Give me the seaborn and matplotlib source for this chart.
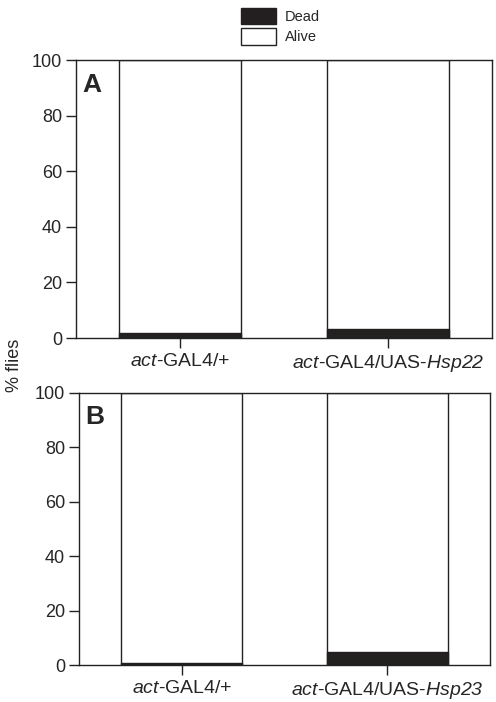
import matplotlib
matplotlib.use("Agg")
import matplotlib.pyplot as plt
import seaborn as sns
import pandas as pd
from matplotlib.patches import Patch

# genotypes and % dead flies
genotypes_A = [r"$\it{act}$-GAL4/+", r"$\it{act}$-GAL4/UAS-$\it{Hsp22}$"]
genotypes_B = [r"$\it{act}$-GAL4/+", r"$\it{act}$-GAL4/UAS-$\it{Hsp23}$"]
dead_A = [1.8, 3.1]
dead_B = [0.9, 4.8]
alive_total = [100, 100]
yticks = [0, 20, 40, 60, 80, 100]

sns.set_style("ticks")
plt.rcParams["font.family"] = ["Liberation Sans", "DejaVu Sans"]
plt.rcParams["mathtext.fontset"] = "custom"
plt.rcParams["mathtext.rm"] = "Liberation Sans:italic"
plt.rcParams["mathtext.it"] = "Liberation Sans:italic"

fig = plt.figure(figsize=(4.96, 7.02), dpi=100)
axA = fig.add_axes([0.153, 0.5185, 0.839, 0.396])
axB = fig.add_axes([0.159, 0.0527, 0.829, 0.3875])


def panel(ax, genos, dead, letter):
    df = pd.DataFrame({"geno": genos, "total": alive_total, "dead": dead})
    sns.barplot(data=df, x="geno", y="total", order=genos, color="white",
                edgecolor="#222222", linewidth=1.0, width=0.59, ax=ax)
    sns.barplot(data=df, x="geno", y="dead", order=genos, color="#231f20",
                edgecolor="#231f20", linewidth=1.0, width=0.59, ax=ax)
    for p in ax.patches:
        p.set_alpha(1)
    ax.set_xlim(-0.5, 1.5)
    ax.set_ylim(0, 100)
    ax.set_yticks(yticks)
    ax.set_xlabel("")
    ax.set_ylabel("")
    for s in ax.spines.values():
        s.set_visible(True)
        s.set_linewidth(1.0)
        s.set_color("#222222")
    ax.tick_params(axis="both", length=7, width=1.0, color="#222222",
                   labelsize=13, pad=3)
    ax.tick_params(axis="x", labelsize=14, pad=4)
    ax.text(0.015, 0.955, letter, transform=ax.transAxes, fontsize=19,
            fontweight="bold", va="top", ha="left")


panel(axA, genotypes_A, dead_A, "A")
panel(axB, genotypes_B, dead_B, "B")

fig.text(0.03, 0.48, "% flies", rotation=90, fontsize=13,
         ha="center", va="center")

handles = [Patch(facecolor="#231f20", edgecolor="#231f20", label="Dead"),
           Patch(facecolor="white", edgecolor="#222222", label="Alive")]
fig.legend(handles=handles, loc="upper center", bbox_to_anchor=(0.565, 1.008),
           frameon=False, fontsize=10.5, handlelength=2.4, handleheight=1.4,
           labelspacing=0.25, handletextpad=0.6)

fig.savefig("out.png", dpi=100)
